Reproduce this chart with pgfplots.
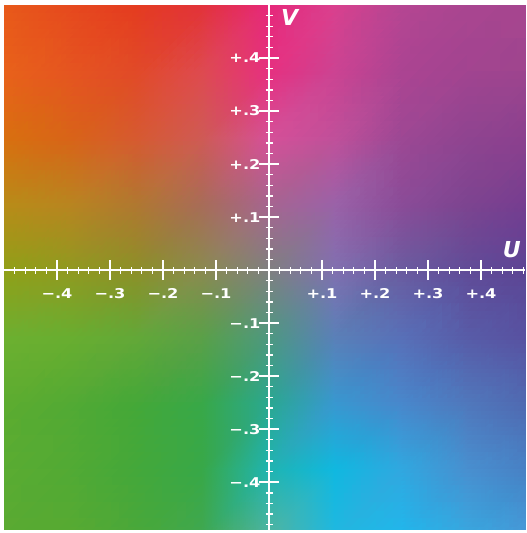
\documentclass[border=0pt]{standalone}
\usepackage{fontspec}
\setmainfont{DejaVu Sans}
\usepackage{graphicx}
\usepackage{pgfplots}
\pgfplotsset{compat=1.18}
\newcommand{\tl}[1]{\scalebox{1.2}[1]{#1}}
\begin{document}
\begin{tikzpicture}[x=1pt,y=1pt]
\useasboundingbox (-4,-3) rectangle (523,530);
\begin{axis}[
  at={(0,0)}, anchor=south west,
  scale only axis, width=521pt, height=525pt,
  xmin=-0.5, xmax=0.483, ymin=-0.49, ymax=0.5,
  axis lines=middle, axis on top,
  axis line style={white, line width=2pt, -},
  xtick={-0.4,-0.3,-0.2,-0.1,0,0.1,0.2,0.3,0.4},
  ytick={-0.4,-0.3,-0.2,-0.1,0,0.1,0.2,0.3,0.4},
  xticklabels={\tl{−.4},\tl{−.3},\tl{−.2},\tl{−.1},,\tl{+.1},\tl{+.2},\tl{+.3},\tl{+.4}},
  yticklabels={\tl{−.4},\tl{−.3},\tl{−.2},\tl{−.1},,\tl{+.1},\tl{+.2},\tl{+.3},\tl{+.4}},
  minor xtick={-0.48,-0.46,...,0.48},
  minor ytick={-0.48,-0.46,...,0.48},
  tick align=center,
  major tick length=20pt, minor tick length=7pt,
  every major tick/.style={white, line width=1.6pt},
  every minor tick/.style={white, line width=1.3pt},
  tick label style={white, font=\fontsize{13.5}{15}\selectfont\bfseries},
  xticklabel style={anchor=north, yshift=-5pt},
  yticklabel style={anchor=east, xshift=5pt},
]
\addplot[surf, shader=interp, mesh/color input=explicit, point meta=explicit symbolic, mesh/cols=9]
table[meta=c] {
x y c
-0.5 0.5 rgb255=232,90,26
-0.375 0.5 rgb255=230,74,30
-0.25 0.5 rgb255=228,60,32
-0.125 0.5 rgb255=226,51,58
0 0.5 rgb255=230,40,122
0.125 0.5 rgb255=217,64,142
0.25 0.5 rgb255=181,69,146
0.375 0.5 rgb255=168,69,144
0.5 0.5 rgb255=165,70,143
-0.5 0.375 rgb255=232,98,26
-0.375 0.375 rgb255=229,85,32
-0.25 0.375 rgb255=225,74,40
-0.125 0.375 rgb255=222,74,80
0 0.375 rgb255=230,48,128
0.125 0.375 rgb255=204,67,146
0.25 0.375 rgb255=171,68,146
0.375 0.375 rgb255=160,68,144
0.5 0.375 rgb255=156,68,142
-0.5 0.25 rgb255=216,112,15
-0.375 0.25 rgb255=216,100,24
-0.25 0.25 rgb255=214,90,48
-0.125 0.25 rgb255=207,90,85
0 0.25 rgb255=213,80,152
0.125 0.25 rgb255=192,80,154
0.25 0.25 rgb255=156,72,148
0.375 0.25 rgb255=142,68,144
0.5 0.25 rgb255=138,63,142
-0.5 0.125 rgb255=184,140,24
-0.375 0.125 rgb255=184,133,32
-0.25 0.125 rgb255=176,120,48
-0.125 0.125 rgb255=168,108,88
0 0.125 rgb255=166,101,144
0.125 0.125 rgb255=154,98,168
0.25 0.125 rgb255=138,76,152
0.375 0.125 rgb255=124,68,144
0.5 0.125 rgb255=116,60,144
-0.5 0 rgb255=144,160,24
-0.375 0 rgb255=144,154,32
-0.25 0 rgb255=140,144,40
-0.125 0 rgb255=138,138,80
0 0 rgb255=127,128,128
0.125 0 rgb255=128,112,176
0.25 0 rgb255=106,92,160
0.375 0 rgb255=96,76,152
0.5 0 rgb255=92,68,148
-0.5 -0.125 rgb255=108,176,48
-0.375 -0.125 rgb255=104,174,48
-0.25 -0.125 rgb255=98,168,56
-0.125 -0.125 rgb255=90,160,72
0 -0.125 rgb255=78,152,128
0.125 -0.125 rgb255=90,128,184
0.25 -0.125 rgb255=88,112,184
0.375 -0.125 rgb255=88,92,168
0.5 -0.125 rgb255=88,80,160
-0.5 -0.25 rgb255=92,172,48
-0.375 -0.25 rgb255=82,170,52
-0.25 -0.25 rgb255=68,168,56
-0.125 -0.25 rgb255=56,168,72
0 -0.25 rgb255=42,168,144
0.125 -0.25 rgb255=56,152,208
0.25 -0.25 rgb255=72,136,204
0.375 -0.25 rgb255=80,120,188
0.5 -0.25 rgb255=80,104,176
-0.5 -0.375 rgb255=90,172,50
-0.375 -0.375 rgb255=82,170,52
-0.25 -0.375 rgb255=68,168,58
-0.125 -0.375 rgb255=56,168,72
0 -0.375 rgb255=32,180,176
0.125 -0.375 rgb255=16,184,224
0.25 -0.375 rgb255=48,168,224
0.375 -0.375 rgb255=72,144,208
0.5 -0.375 rgb255=72,128,196
-0.5 -0.5 rgb255=90,170,50
-0.375 -0.5 rgb255=88,170,50
-0.25 -0.5 rgb255=74,168,58
-0.125 -0.5 rgb255=64,168,80
0 -0.5 rgb255=80,180,160
0.125 -0.5 rgb255=32,184,224
0.25 -0.5 rgb255=32,184,236
0.375 -0.5 rgb255=56,168,224
0.5 -0.5 rgb255=72,152,216
};
\node[white, font=\fontsize{22}{24}\selectfont\bfseries\itshape] at (axis cs:0.458,0.039) {U};
\node[white, font=\fontsize{22}{24}\selectfont\bfseries\itshape] at (axis cs:0.039,0.477) {V};
\end{axis}
\end{tikzpicture}
\end{document}
